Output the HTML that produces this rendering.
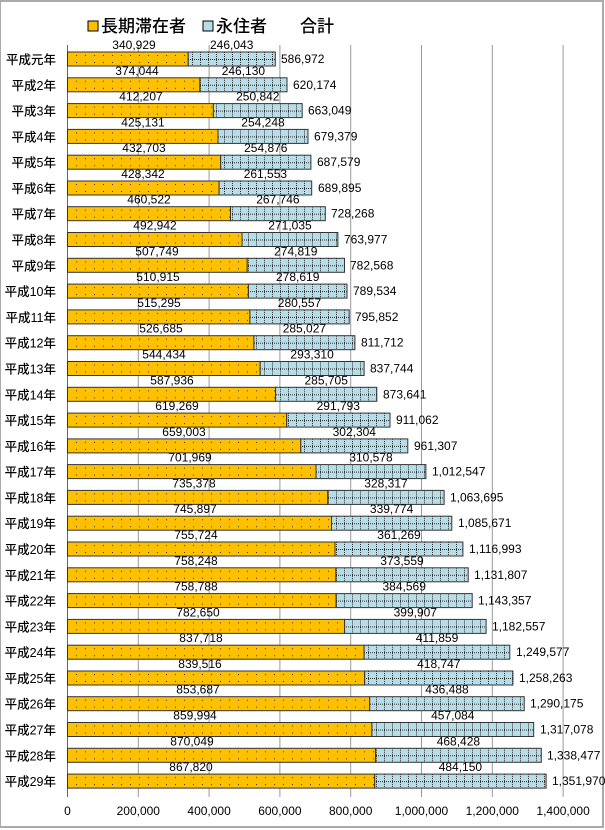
<!DOCTYPE html>
<html><head><meta charset="utf-8"><style>
html,body{margin:0;padding:0;background:#fff;}
svg{display:block;}
.n{font-family:"Liberation Sans",sans-serif;font-size:12px;fill:#000;}
.c{font-family:"Liberation Sans","Noto Sans CJK JP",sans-serif;font-size:12.5px;font-weight:500;fill:#000;}
.lg{font-family:"Liberation Sans","Noto Sans CJK JP",sans-serif;font-size:17px;font-weight:500;fill:#000;}
</style></head><body>
<svg width="605" height="830" viewBox="0 0 605 830" xmlns="http://www.w3.org/2000/svg">
<defs>
<pattern id="po" width="9" height="7" patternUnits="userSpaceOnUse"><rect width="9" height="7" fill="#FFC000"/><rect x="4" y="3" width="1" height="1" fill="#333"/></pattern>
<pattern id="pb" width="8" height="14" patternUnits="userSpaceOnUse"><rect width="8" height="14" fill="#B7DDE8"/><line x1="0.5" y1="0" x2="0.5" y2="14" stroke="#333" stroke-width="1" stroke-dasharray="1,1"/><line x1="0" y1="7.5" x2="8" y2="7.5" stroke="#333" stroke-width="1" stroke-dasharray="1,1"/></pattern>
</defs>
<rect x="0" y="1" width="603" height="826" fill="none" stroke="#aaa" stroke-width="2"/>
<rect x="88" y="21" width="10" height="10" fill="#FFC000" stroke="#000"/>
<text class="lg" x="101" y="32">長期滞在者</text>
<rect x="203" y="21" width="10" height="10" fill="#B7DDE8" stroke="#000"/>
<text class="lg" x="216" y="32">永住者</text>
<text class="lg" x="300" y="32">合計</text>
<g stroke="#999" stroke-width="1">
<line x1="138.3" y1="45" x2="138.3" y2="797"/><line x1="209.1" y1="45" x2="209.1" y2="797"/><line x1="279.9" y1="45" x2="279.9" y2="797"/><line x1="350.7" y1="45" x2="350.7" y2="797"/><line x1="421.5" y1="45" x2="421.5" y2="797"/><line x1="492.3" y1="45" x2="492.3" y2="797"/><line x1="563.1" y1="45" x2="563.1" y2="797"/>
</g>
<line x1="67.5" y1="45" x2="67.5" y2="797" stroke="#666"/>
<g class="n" text-anchor="middle">
<text x="67.5" y="815">0</text><text x="138.3" y="815">200,000</text><text x="209.1" y="815">400,000</text><text x="279.9" y="815">600,000</text><text x="350.7" y="815">800,000</text><text x="421.5" y="815">1,000,000</text><text x="492.3" y="815">1,200,000</text><text x="563.1" y="815">1,400,000</text>
</g>
<g stroke="#333" stroke-width="1">
<g transform="translate(0,52)"><rect x="67.5" width="120.7" height="14" fill="url(#po)"/><rect x="188.2" width="87.1" height="14" fill="url(#pb)"/></g>
<g transform="translate(0,77.8)"><rect x="67.5" width="132.4" height="14" fill="url(#po)"/><rect x="199.9" width="87.1" height="14" fill="url(#pb)"/></g>
<g transform="translate(0,103.6)"><rect x="67.5" width="145.9" height="14" fill="url(#po)"/><rect x="213.4" width="88.8" height="14" fill="url(#pb)"/></g>
<g transform="translate(0,129.4)"><rect x="67.5" width="150.5" height="14" fill="url(#po)"/><rect x="218" width="90" height="14" fill="url(#pb)"/></g>
<g transform="translate(0,155.2)"><rect x="67.5" width="153.2" height="14" fill="url(#po)"/><rect x="220.7" width="90.2" height="14" fill="url(#pb)"/></g>
<g transform="translate(0,181)"><rect x="67.5" width="151.6" height="14" fill="url(#po)"/><rect x="219.1" width="92.6" height="14" fill="url(#pb)"/></g>
<g transform="translate(0,206.7)"><rect x="67.5" width="163" height="14" fill="url(#po)"/><rect x="230.5" width="94.8" height="14" fill="url(#pb)"/></g>
<g transform="translate(0,232.5)"><rect x="67.5" width="174.5" height="14" fill="url(#po)"/><rect x="242" width="95.9" height="14" fill="url(#pb)"/></g>
<g transform="translate(0,258.3)"><rect x="67.5" width="179.7" height="14" fill="url(#po)"/><rect x="247.2" width="97.3" height="14" fill="url(#pb)"/></g>
<g transform="translate(0,284.1)"><rect x="67.5" width="180.9" height="14" fill="url(#po)"/><rect x="248.4" width="98.6" height="14" fill="url(#pb)"/></g>
<g transform="translate(0,309.9)"><rect x="67.5" width="182.4" height="14" fill="url(#po)"/><rect x="249.9" width="99.3" height="14" fill="url(#pb)"/></g>
<g transform="translate(0,335.7)"><rect x="67.5" width="186.4" height="14" fill="url(#po)"/><rect x="253.9" width="101" height="14" fill="url(#pb)"/></g>
<g transform="translate(0,361.5)"><rect x="67.5" width="192.7" height="14" fill="url(#po)"/><rect x="260.2" width="103.9" height="14" fill="url(#pb)"/></g>
<g transform="translate(0,387.3)"><rect x="67.5" width="208.1" height="14" fill="url(#po)"/><rect x="275.6" width="101.2" height="14" fill="url(#pb)"/></g>
<g transform="translate(0,413.1)"><rect x="67.5" width="219.2" height="14" fill="url(#po)"/><rect x="286.7" width="103.3" height="14" fill="url(#pb)"/></g>
<g transform="translate(0,438.9)"><rect x="67.5" width="233.3" height="14" fill="url(#po)"/><rect x="300.8" width="107" height="14" fill="url(#pb)"/></g>
<g transform="translate(0,464.6)"><rect x="67.5" width="248.5" height="14" fill="url(#po)"/><rect x="316" width="109.9" height="14" fill="url(#pb)"/></g>
<g transform="translate(0,490.4)"><rect x="67.5" width="260.3" height="14" fill="url(#po)"/><rect x="327.8" width="116.3" height="14" fill="url(#pb)"/></g>
<g transform="translate(0,516.2)"><rect x="67.5" width="264" height="14" fill="url(#po)"/><rect x="331.5" width="120.3" height="14" fill="url(#pb)"/></g>
<g transform="translate(0,542)"><rect x="67.5" width="267.5" height="14" fill="url(#po)"/><rect x="335" width="127.9" height="14" fill="url(#pb)"/></g>
<g transform="translate(0,567.8)"><rect x="67.5" width="268.4" height="14" fill="url(#po)"/><rect x="335.9" width="132.3" height="14" fill="url(#pb)"/></g>
<g transform="translate(0,593.6)"><rect x="67.5" width="268.6" height="14" fill="url(#po)"/><rect x="336.1" width="136.1" height="14" fill="url(#pb)"/></g>
<g transform="translate(0,619.4)"><rect x="67.5" width="277.1" height="14" fill="url(#po)"/><rect x="344.6" width="141.5" height="14" fill="url(#pb)"/></g>
<g transform="translate(0,645.2)"><rect x="67.5" width="296.6" height="14" fill="url(#po)"/><rect x="364.1" width="145.7" height="14" fill="url(#pb)"/></g>
<g transform="translate(0,671)"><rect x="67.5" width="297.2" height="14" fill="url(#po)"/><rect x="364.7" width="148.2" height="14" fill="url(#pb)"/></g>
<g transform="translate(0,696.7)"><rect x="67.5" width="302.2" height="14" fill="url(#po)"/><rect x="369.7" width="154.5" height="14" fill="url(#pb)"/></g>
<g transform="translate(0,722.5)"><rect x="67.5" width="304.4" height="14" fill="url(#po)"/><rect x="371.9" width="161.8" height="14" fill="url(#pb)"/></g>
<g transform="translate(0,748.3)"><rect x="67.5" width="308" height="14" fill="url(#po)"/><rect x="375.5" width="165.8" height="14" fill="url(#pb)"/></g>
<g transform="translate(0,774.1)"><rect x="67.5" width="307.2" height="14" fill="url(#po)"/><rect x="374.7" width="171.4" height="14" fill="url(#pb)"/></g>
</g>
<g class="c" text-anchor="end">
<text x="56" y="64">平成元年</text><text x="56" y="89.8">平成2年</text><text x="56" y="115.6">平成3年</text><text x="56" y="141.4">平成4年</text><text x="56" y="167.2">平成5年</text><text x="56" y="193">平成6年</text><text x="56" y="218.7">平成7年</text><text x="56" y="244.5">平成8年</text><text x="56" y="270.3">平成9年</text><text x="56" y="296.1">平成10年</text><text x="56" y="321.9">平成11年</text><text x="56" y="347.7">平成12年</text><text x="56" y="373.5">平成13年</text><text x="56" y="399.3">平成14年</text><text x="56" y="425.1">平成15年</text><text x="56" y="450.9">平成16年</text><text x="56" y="476.6">平成17年</text><text x="56" y="502.4">平成18年</text><text x="56" y="528.2">平成19年</text><text x="56" y="554">平成20年</text><text x="56" y="579.8">平成21年</text><text x="56" y="605.6">平成22年</text><text x="56" y="631.4">平成23年</text><text x="56" y="657.2">平成24年</text><text x="56" y="683">平成25年</text><text x="56" y="708.7">平成26年</text><text x="56" y="734.5">平成27年</text><text x="56" y="760.3">平成28年</text><text x="56" y="786.1">平成29年</text>
</g>
<g class="n" text-anchor="middle">
<text x="134" y="49">340,929</text><text x="137" y="74.8">374,044</text><text x="141" y="100.6">412,207</text><text x="143" y="126.4">425,131</text><text x="144" y="152.2">432,703</text><text x="143" y="178">428,342</text><text x="149" y="203.7">460,522</text><text x="155" y="229.5">492,942</text><text x="157" y="255.3">507,749</text><text x="158" y="281.1">510,915</text><text x="159" y="306.9">515,295</text><text x="161" y="332.7">526,685</text><text x="164" y="358.5">544,434</text><text x="172" y="384.3">587,936</text><text x="177" y="410.1">619,269</text><text x="184" y="435.9">659,003</text><text x="190" y="461.6">701,969</text><text x="194" y="487.4">735,378</text><text x="195" y="513.2">745,897</text><text x="196" y="539">755,724</text><text x="196" y="564.8">758,248</text><text x="196" y="590.6">758,788</text><text x="198" y="616.4">782,650</text><text x="201" y="642.2">837,718</text><text x="200" y="668">839,516</text><text x="198" y="693.7">853,687</text><text x="195" y="719.5">859,994</text><text x="192" y="745.3">870,049</text><text x="191" y="771.1">867,820</text>
</g>
<g class="n" text-anchor="middle">
<text x="231.7" y="49">246,043</text><text x="243.4" y="74.8">246,130</text><text x="257.8" y="100.6">250,842</text><text x="263" y="126.4">254,248</text><text x="265.8" y="152.2">254,876</text><text x="265.4" y="178">261,553</text><text x="277.9" y="203.7">267,746</text><text x="290" y="229.5">271,035</text><text x="295.8" y="255.3">274,819</text><text x="297.7" y="281.1">278,619</text><text x="299.5" y="306.9">280,557</text><text x="304.4" y="332.7">285,027</text><text x="312.1" y="358.5">293,310</text><text x="326.2" y="384.3">285,705</text><text x="338.3" y="410.1">291,793</text><text x="354.3" y="435.9">302,304</text><text x="371" y="461.6">310,578</text><text x="386" y="487.4">328,317</text><text x="391.6" y="513.2">339,774</text><text x="399" y="539">361,269</text><text x="402" y="564.8">373,559</text><text x="404.2" y="590.6">384,569</text><text x="415.3" y="616.4">399,907</text><text x="437" y="642.2">411,859</text><text x="438.8" y="668">418,747</text><text x="447" y="693.7">436,488</text><text x="452.8" y="719.5">457,084</text><text x="458.4" y="745.3">468,428</text><text x="460.4" y="771.1">484,150</text>
</g>
<g class="n">
<text x="281" y="63">586,972</text><text x="293" y="88.8">620,174</text><text x="308" y="114.6">663,049</text><text x="314" y="140.4">679,379</text><text x="317" y="166.2">687,579</text><text x="318" y="192">689,895</text><text x="331" y="217.7">728,268</text><text x="344" y="243.5">763,977</text><text x="350" y="269.3">782,568</text><text x="353" y="295.1">789,534</text><text x="355" y="320.9">795,852</text><text x="361" y="346.7">811,712</text><text x="370" y="372.5">837,744</text><text x="383" y="398.3">873,641</text><text x="396" y="424.1">911,062</text><text x="414" y="449.9">961,307</text><text x="432" y="475.6">1,012,547</text><text x="450" y="501.4">1,063,695</text><text x="458" y="527.2">1,085,671</text><text x="469" y="553">1,116,993</text><text x="474" y="578.8">1,131,807</text><text x="478" y="604.6">1,143,357</text><text x="492" y="630.4">1,182,557</text><text x="516" y="656.2">1,249,577</text><text x="519" y="682">1,258,263</text><text x="530" y="707.7">1,290,175</text><text x="540" y="733.5">1,317,078</text><text x="547" y="759.3">1,338,477</text><text x="552" y="785.1">1,351,970</text>
</g>
</svg>
</body></html>
